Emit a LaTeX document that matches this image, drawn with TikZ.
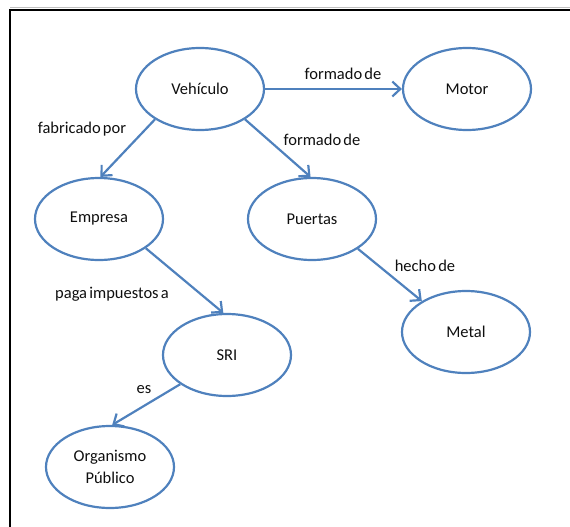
\documentclass[tikz,border=0pt]{standalone}
\usepackage{fontspec}
\setmainfont{Carlito}[WordSpace=0.6]
\usetikzlibrary{shapes.geometric,arrows.meta}
\definecolor{conceptblue}{RGB}{79,129,189}
\definecolor{inktext}{RGB}{15,15,15}
\begin{document}
\begin{tikzpicture}[x=1pt,y=-1pt,
  concept/.style={ellipse,draw=conceptblue,line width=2.2pt,minimum width=128pt,
    minimum height=82pt,inner sep=0pt,font=\fontsize{16.5}{22}\selectfont,
    text=inktext,align=center},
  link/.style={draw=conceptblue,line width=2.2pt,
    -{Straight Barb[length=8pt,width=15pt,line width=2.2pt]}},
  linklabel/.style={font=\fontsize{16.5}{20}\selectfont,text=inktext,inner sep=0pt}]
\useasboundingbox (0,0) rectangle (570,527);
% page frame
\draw[black!25,line width=1.5pt] (10,7.5) -- (570,7.5);
\draw[black,line width=2pt] (10,527) -- (10,10) -- (570,10);

% concepts
\node[concept] (veh) at (200,89) {Vehículo};
\node[concept] (mot) at (467,89) {Motor};
\node[concept] (emp) at (99,219) {Empresa};
\node[concept] (pue) at (312,219) {Puertas};
\node[concept] (met) at (466,332) {Metal};
\node[concept] (sri) at (227,355) {SRI};
\node[concept] (org) at (110,467) {Organismo\\Público};

% relations
\draw[link] (veh.0) -- (mot.180);
\draw[link] (veh.214) -- (emp.88);
\draw[link] (veh.326) -- (pue.92);
\draw[link] (emp.328) -- (sri.95);
\draw[link] (pue.327) -- (met.145);
\draw[link] (sri.212) -- (org.87);

% relation labels
\node[linklabel] (l1) at (343,74) {formado de};
\node[linklabel] (l2) at (322,140) {formado de};
\node[linklabel] (l3) at (82,129) {fabricado por};
\node[linklabel] (l4) at (112,294) {paga impuestos a};
\node[linklabel] (l5) at (425,266) {hecho de};
\node[linklabel] (l6) at (144,390) {es};
\end{tikzpicture}
\end{document}
